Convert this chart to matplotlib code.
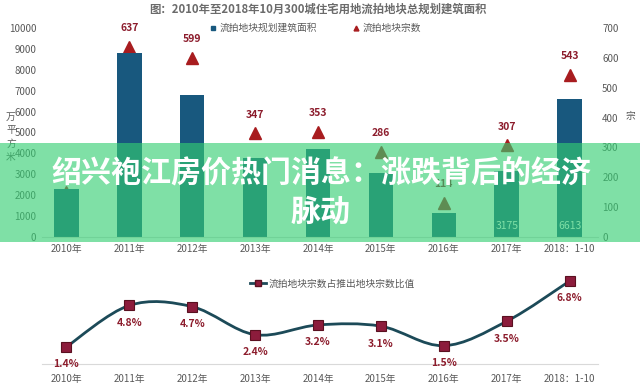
import numpy as np
import matplotlib
matplotlib.use('Agg')
import matplotlib.pyplot as plt
from matplotlib.path import Path
from matplotlib.patches import PathPatch, Rectangle
from matplotlib.lines import Line2D

plt.rcParams['font.family'] = ['Noto Sans CJK SC', 'DejaVu Sans']

# data
years = ['2010年', '2011年', '2012年', '2013年', '2014年', '2015年', '2016年', '2017年', '2018：1-10']
area = [2300, 8800, 6800, 3780, 4200, 3060, 1150, 3175, 6613]       # 万平方米
count = [150, 637, 599, 347, 353, 286, 114, 307, 543]                # 宗
count_shown = [False, True, True, True, True, True, True, True, True]  # 2010 label hidden in picture
ratio = [1.4, 4.8, 4.7, 2.4, 3.2, 3.1, 1.5, 3.5, 6.8]                 # %
area_labels = {7: '3175', 8: '6613'}

title = '图：2010年至2018年10月300城住宅用地流拍地块总规划建筑面积'
banner1 = '绍兴袍江房价热门消息：涨跌背后的经济'
banner2 = '脉动'

BAR = '#18587e'
RED = '#a81c1f'
LABEL_RED = '#8c1c2c'
GRAY = '#595959'
LINE = '#1c4a58'

W, H = 640, 386
fig = plt.figure(figsize=(6.4, 3.86), dpi=100)

x = np.arange(len(years))
xl = (-(66 - 42) / 62, 8 + (598 - 570) / 62)

# ---- top chart: bars + triangles
ax = fig.add_axes([42 / W, (H - 237) / H, (598 - 42) / W, (237 - 28) / H])
ax.bar(x, area, width=0.39, color=BAR, zorder=2)
ax.set_xlim(*xl)
ax.set_ylim(0, 10000)
ax.set_yticks(range(0, 10001, 1000))
ax.set_xticks(x)
ax.set_xticklabels(years)
ax.tick_params(axis='both', length=0, labelsize=7, colors=GRAY)
ax.tick_params(axis='x', pad=5)
ax.tick_params(axis='y', pad=4)
for s in ['top', 'left', 'right']:
    ax.spines[s].set_visible(False)
ax.spines['bottom'].set_color('#d9d9d9')
for i, t in area_labels.items():
    ax.annotate(t, (x[i], 0), xytext=(0, 8), textcoords='offset points',
                ha='center', va='center', color='white', fontsize=7.5)

ax2 = ax.twinx()
ax2.plot(x, count, '^', color=RED, markersize=8, zorder=3)
ax2.set_ylim(0, 700)
ax2.set_yticks(range(0, 701, 100))
ax2.tick_params(axis='y', length=0, labelsize=7, colors=GRAY, pad=3)
for s in ['top', 'left', 'right', 'bottom']:
    ax2.spines[s].set_visible(False)
for xi, c, shown in zip(x, count, count_shown):
    if shown:
        ax2.annotate(str(c), (xi, c), xytext=(0, 13.5), textcoords='offset points',
                     ha='center', va='center', color=LABEL_RED, fontsize=7.5, fontweight='bold')
# bars sit in front of the triangles
ax.set_zorder(ax2.get_zorder() + 1)
ax.patch.set_visible(False)

handles = [Line2D([], [], marker='s', linestyle='none', color=BAR, markersize=3.5),
           Line2D([], [], marker='^', linestyle='none', color=RED, markersize=3.5)]
ax.legend(handles, ['流拍地块规划建筑面积', '流拍地块宗数'], loc='center', bbox_to_anchor=(0.492, 1.0),
          ncol=2, frameon=False, fontsize=7, handlelength=0.6, handletextpad=0.3,
          columnspacing=3.8, labelcolor=GRAY)

fig.text(318 / W, 1 - 9 / H, title, ha='center', va='center', fontsize=8.2,
         color='#6b6b6b', fontweight='bold')
fig.text(11 / W, 1 - 137 / H, '万\n平\n方\n米', ha='center', va='center', fontsize=7,
         color=GRAY, linespacing=1.4)
fig.text(630 / W, 1 - 116 / H, '宗', ha='center', va='center', fontsize=7, color=GRAY)

# ---- bottom chart: smooth line
bx = fig.add_axes([42 / W, (H - 364) / H, (598 - 42) / W, 96 / H])
bx.set_xlim(*xl)
bx.set_ylim(0, 96 / 12.2)
xs = x.astype(float)
ys = np.array(ratio)
px = np.concatenate([[xs[0]], xs, [xs[-1]]])
py = np.concatenate([[ys[0]], ys, [ys[-1]]])
verts = [(xs[0], ys[0])]
codes = [Path.MOVETO]
for i in range(1, len(px) - 2):
    c1 = (px[i] + (px[i + 1] - px[i - 1]) / 6, py[i] + (py[i + 1] - py[i - 1]) / 6)
    c2 = (px[i + 1] - (px[i + 2] - px[i]) / 6, py[i + 1] - (py[i + 2] - py[i]) / 6)
    verts += [c1, c2, (px[i + 1], py[i + 1])]
    codes += [Path.CURVE4] * 3
bx.add_patch(PathPatch(Path(verts, codes), fill=False, edgecolor=LINE, linewidth=2, zorder=2))
bx.plot(xs, ys, 's', color='#8c1c3c', markeredgecolor='#5a1020', markeredgewidth=0.8,
        markersize=6.5, zorder=3)
for xi, r in zip(xs, ys):
    bx.annotate(f'{r}%', (xi, r), xytext=(0, -12.5), textcoords='offset points',
                ha='center', va='center', color=LABEL_RED, fontsize=7.5, fontweight='bold')
bx.set_xticks(x)
bx.set_xticklabels(years)
bx.set_yticks([])
bx.tick_params(axis='x', length=0, labelsize=7, colors=GRAY, pad=7)
for s in ['top', 'left', 'right']:
    bx.spines[s].set_visible(False)
bx.spines['bottom'].set_color('#d9d9d9')
bx.legend([Line2D([], [], color=LINE, linewidth=2, marker='s', markersize=4,
                  markerfacecolor='#8c1c3c', markeredgecolor='#5a1020')],
          ['流拍地块宗数占推出地块宗数比值'], loc='center', bbox_to_anchor=(0.523, 0.84),
          frameon=False, fontsize=7, handlelength=1.6, handletextpad=0.3, labelcolor=GRAY)

# ---- translucent green banner with headline
fig.patches.append(Rectangle((0, (H - 242) / H), 1, 99 / H, transform=fig.transFigure,
                             facecolor=(52 / 255, 206 / 255, 114 / 255), alpha=0.63,
                             edgecolor='none', zorder=5))
fig.text(321 / W, 1 - 174 / H, banner1, ha='center', va='center', fontsize=21.6,
         color='white', fontweight='bold', zorder=6)
fig.text(321 / W, 1 - 212 / H, banner2, ha='center', va='center', fontsize=21.6,
         color='white', fontweight='bold', zorder=6)

fig.savefig('out.png', dpi=100)
